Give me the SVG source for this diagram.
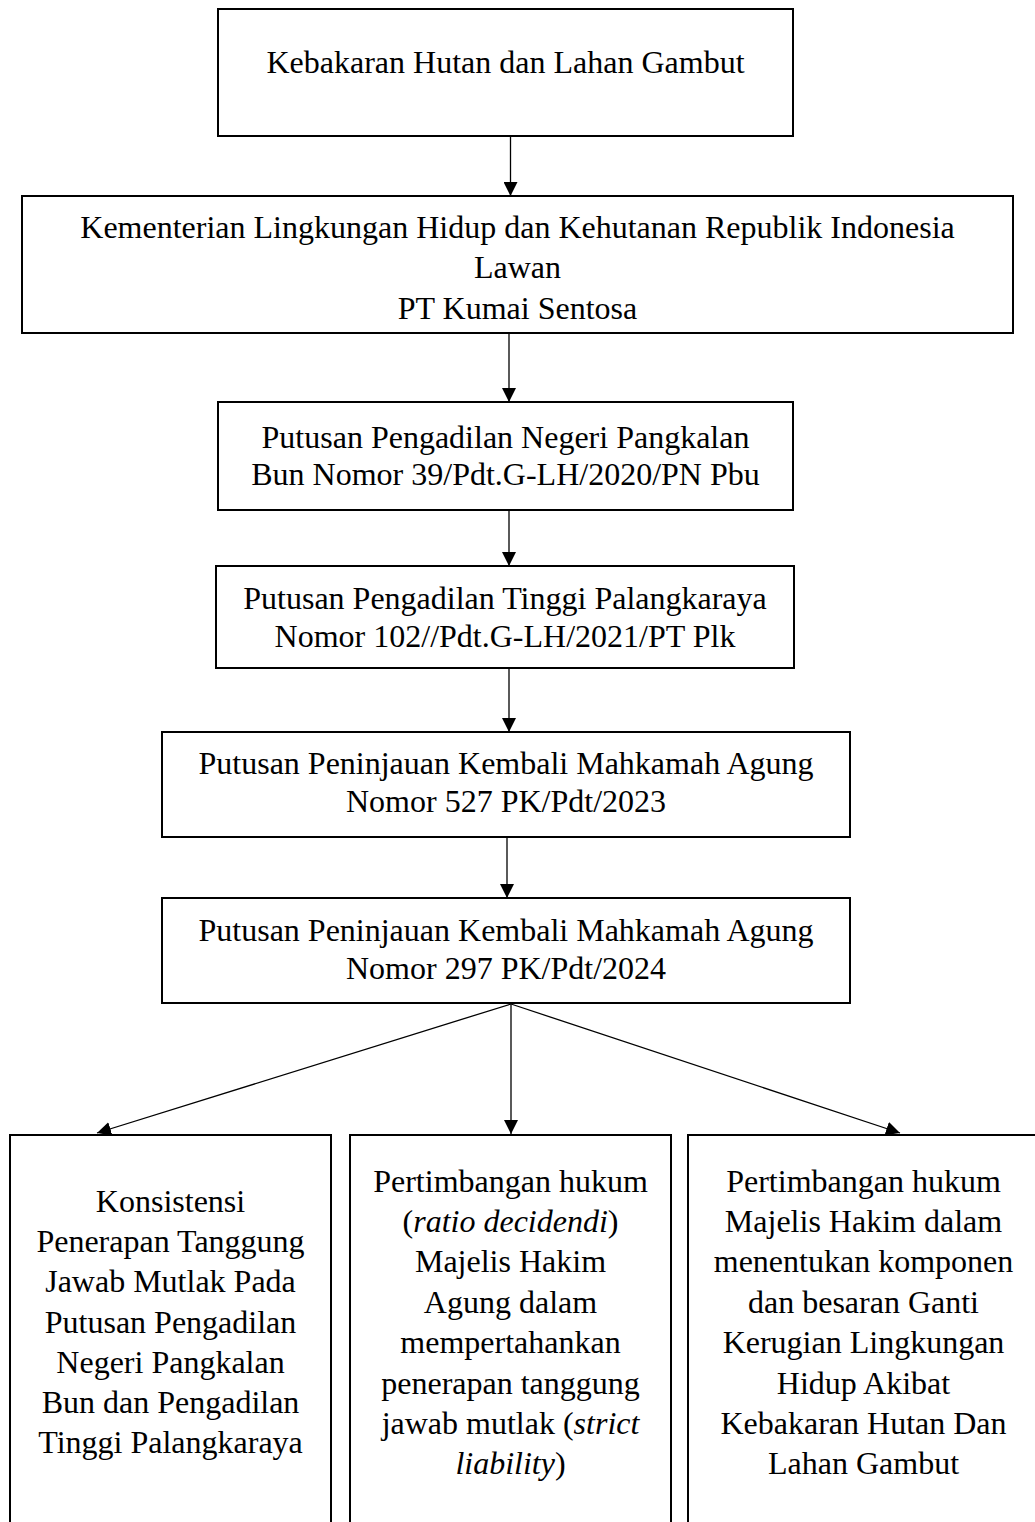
<svg xmlns="http://www.w3.org/2000/svg" width="1035" height="1522" viewBox="0 0 1035 1522">
<style>
.box{fill:#fff;stroke:#000;stroke-width:2}
.t{font-family:"Liberation Serif","Times New Roman",serif;font-size:32px;fill:#000;text-anchor:middle}
.c{stroke:#000;stroke-width:1.3;fill:none;marker-end:url(#ah)}
</style>
<defs>
<marker id="ah" viewBox="0 0 14 14" refX="14" refY="7" markerWidth="14" markerHeight="14" markerUnits="userSpaceOnUse" orient="auto">
<path d="M0,0 L14,7 L0,14 Z" fill="#000"/>
</marker>
</defs>
<rect width="1035" height="1522" fill="#fff"/>
<g id="connectors">
<line class="c" x1="510.5" y1="137" x2="510.5" y2="196"/>
<line class="c" x1="509" y1="334" x2="509" y2="402"/>
<line class="c" x1="509" y1="511" x2="509" y2="566"/>
<line class="c" x1="509" y1="669" x2="509" y2="732"/>
<line class="c" x1="507" y1="838" x2="507" y2="898"/>
<line class="c" x1="511" y1="1004" x2="97" y2="1133"/>
<line class="c" x1="511" y1="1004" x2="511" y2="1134"/>
<line class="c" x1="511" y1="1004" x2="900" y2="1133"/>
</g>
<g id="n1">
<rect class="box" x="218" y="9" width="575" height="127"/>
<text class="t" x="505.5" y="73">Kebakaran Hutan dan Lahan Gambut</text>
</g>
<g id="n2">
<rect class="box" x="22" y="196" width="991" height="137"/>
<text class="t" x="517.5" y="238">Kementerian Lingkungan Hidup dan Kehutanan Republik Indonesia</text>
<text class="t" x="517.5" y="278">Lawan</text>
<text class="t" x="517.5" y="319">PT Kumai Sentosa</text>
</g>
<g id="n3">
<rect class="box" x="218" y="402" width="575" height="108"/>
<text class="t" x="505.5" y="448">Putusan Pengadilan Negeri Pangkalan</text>
<text class="t" x="505.5" y="485">Bun Nomor 39/Pdt.G-LH/2020/PN Pbu</text>
</g>
<g id="n4">
<rect class="box" x="216" y="566" width="578" height="102"/>
<text class="t" x="505" y="609">Putusan Pengadilan Tinggi Palangkaraya</text>
<text class="t" x="505" y="647">Nomor 102//Pdt.G-LH/2021/PT Plk</text>
</g>
<g id="n5">
<rect class="box" x="162" y="732" width="688" height="105"/>
<text class="t" x="506" y="774">Putusan Peninjauan Kembali Mahkamah Agung</text>
<text class="t" x="506" y="812">Nomor 527 PK/Pdt/2023</text>
</g>
<g id="n6">
<rect class="box" x="162" y="898" width="688" height="105"/>
<text class="t" x="506" y="941">Putusan Peninjauan Kembali Mahkamah Agung</text>
<text class="t" x="506" y="979">Nomor 297 PK/Pdt/2024</text>
</g>
<g id="n7">
<rect class="box" x="10" y="1135" width="321" height="400"/>
<text class="t" x="170.5" y="1212">Konsistensi</text>
<text class="t" x="170.5" y="1252">Penerapan Tanggung</text>
<text class="t" x="170.5" y="1292">Jawab Mutlak Pada</text>
<text class="t" x="170.5" y="1333">Putusan Pengadilan</text>
<text class="t" x="170.5" y="1373">Negeri Pangkalan</text>
<text class="t" x="170.5" y="1413">Bun dan Pengadilan</text>
<text class="t" x="170.5" y="1453">Tinggi Palangkaraya</text>
</g>
<g id="n8">
<rect class="box" x="350" y="1135" width="321" height="400"/>
<text class="t" x="510.5" y="1192">Pertimbangan hukum</text>
<text class="t" x="510.5" y="1232">(<tspan font-style="italic">ratio decidendi</tspan>)</text>
<text class="t" x="510.5" y="1272">Majelis Hakim</text>
<text class="t" x="510.5" y="1313">Agung dalam</text>
<text class="t" x="510.5" y="1353">mempertahankan</text>
<text class="t" x="510.5" y="1394">penerapan tanggung</text>
<text class="t" x="510.5" y="1434">jawab mutlak (<tspan font-style="italic">strict</tspan></text>
<text class="t" x="510.5" y="1474"><tspan font-style="italic">liability</tspan>)</text>
</g>
<g id="n9">
<rect class="box" x="688" y="1135" width="352" height="400"/>
<text class="t" x="863.5" y="1192">Pertimbangan hukum</text>
<text class="t" x="863.5" y="1232">Majelis Hakim dalam</text>
<text class="t" x="863.5" y="1272">menentukan komponen</text>
<text class="t" x="863.5" y="1313">dan besaran Ganti</text>
<text class="t" x="863.5" y="1353">Kerugian Lingkungan</text>
<text class="t" x="863.5" y="1394">Hidup Akibat</text>
<text class="t" x="863.5" y="1434">Kebakaran Hutan Dan</text>
<text class="t" x="863.5" y="1474">Lahan Gambut</text>
</g>
</svg>
